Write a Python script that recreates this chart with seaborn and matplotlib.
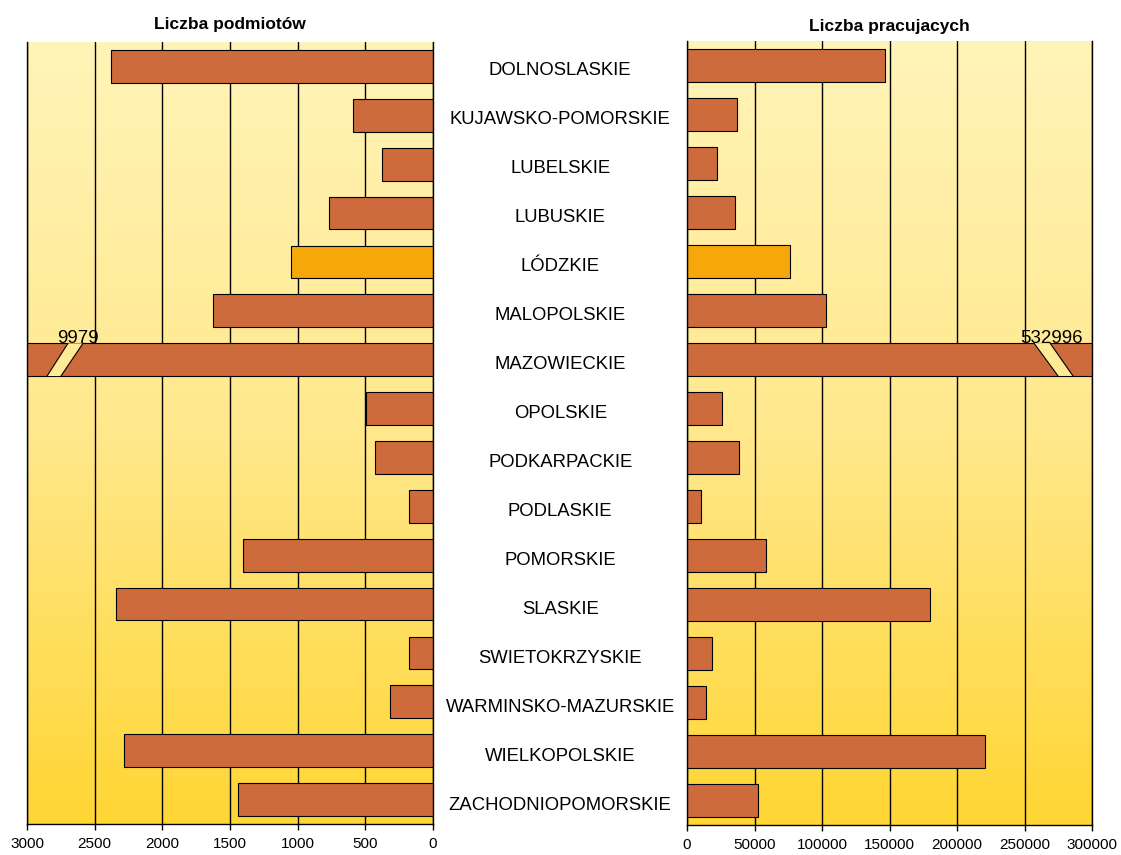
import numpy as np
import pandas as pd
import matplotlib
matplotlib.use("Agg")
import matplotlib.pyplot as plt
from matplotlib.colors import LinearSegmentedColormap
from matplotlib.patches import Polygon
import seaborn as sns

# data
regions = ["DOLNOSLASKIE", "KUJAWSKO-POMORSKIE", "LUBELSKIE", "LUBUSKIE", "LÓDZKIE",
           "MALOPOLSKIE", "MAZOWIECKIE", "OPOLSKIE", "PODKARPACKIE", "PODLASKIE",
           "POMORSKIE", "SLASKIE", "SWIETOKRZYSKIE", "WARMINSKO-MAZURSKIE",
           "WIELKOPOLSKIE", "ZACHODNIOPOMORSKIE"]
podmioty = [2380, 590, 380, 765, 1050, 1625, 9979, 495, 425, 180,
            1405, 2345, 180, 315, 2285, 1440]
pracujacy = [146700, 37000, 22200, 35500, 76300, 103000, 532996, 25900, 38500, 10400,
             58500, 180000, 18500, 14100, 220700, 52600]
left_max = 3000
right_max = 300000
left_ticks = [0, 500, 1000, 1500, 2000, 2500, 3000]
right_ticks = [0, 50000, 100000, 150000, 200000, 250000, 300000]
highlight = "LÓDZKIE"
broken = "MAZOWIECKIE"

bar_color = "#CD6B3D"
hl_color = "#F6A70A"
palette = {r: (hl_color if r == highlight else bar_color) for r in regions}

df = pd.DataFrame({"region": regions, "podmioty": podmioty, "pracujacy": pracujacy})
df["podmioty_plot"] = df["podmioty"].clip(upper=left_max)
df["pracujacy_plot"] = df["pracujacy"].clip(upper=right_max)

sns.set_style("white")
plt.rcParams["font.family"] = ["Liberation Sans", "DejaVu Sans"]
plt.rcParams["text.color"] = "black"
plt.rcParams["xtick.color"] = "black"

fig = plt.figure(figsize=(11.21, 8.55), dpi=100)
axL = fig.add_axes([27 / 1121, 31 / 855, 406 / 1121, 782 / 855])
axR = fig.add_axes([687 / 1121, 30 / 855, 405 / 1121, 784 / 855])

grad = LinearSegmentedColormap.from_list("bg", ["#FFF4B8", "#FFE88C", "#FFD634"])
n = len(regions)


def draw_panel(ax, col, xmax, ticks):
    ax.imshow(np.linspace(0, 1, 256).reshape(-1, 1), cmap=grad, aspect="auto",
              extent=[0, xmax, n - 0.5, -0.5], zorder=0)
    sns.barplot(data=df, y="region", x=col, hue="region", palette=palette,
                legend=False, orient="h", width=0.67, edgecolor="black",
                linewidth=0.8, saturation=1, ax=ax, zorder=2)
    ax.set_xlim(0, xmax)
    ax.set_ylim(n - 0.5, -0.5)
    ax.set_xticks(ticks)
    ax.set_xticklabels([str(t) for t in ticks], fontsize=11)
    ax.set_yticks([])
    ax.set_xlabel("")
    ax.set_ylabel("")
    for t in ticks:
        ax.axvline(t, color="black", lw=1, zorder=1)
    ax.spines["top"].set_visible(False)
    for s in ["left", "right", "bottom"]:
        ax.spines[s].set_color("black")
        ax.spines[s].set_linewidth(1)
    ax.tick_params(axis="x", bottom=True, length=4, width=1, direction="out",
                   color="black", pad=5)


draw_panel(axL, "podmioty_plot", left_max, left_ticks)
draw_panel(axR, "pracujacy_plot", right_max, right_ticks)
axL.invert_xaxis()

axL.set_title("Liczba podmiotów", fontsize=12.5, fontweight="bold", pad=9)
axR.set_title("Liczba pracujacych", fontsize=12.5, fontweight="bold", pad=7)

# category names in the middle
for i, r in enumerate(regions):
    axR.text(-0.313, i + 0.1, r, transform=axR.get_yaxis_transform(), ha="center",
             va="center", fontsize=13.3)

# broken bar for MAZOWIECKIE
bi = regions.index(broken)
h = 0.67 / 2
gap_col = "#FFEA95"


def draw_break(ax, xs_top, xs_bot):
    poly = Polygon([(xs_top[0], bi - h), (xs_top[1], bi - h),
                    (xs_bot[1], bi + h), (xs_bot[0], bi + h)],
                   closed=True, facecolor=gap_col, edgecolor="none", zorder=3)
    ax.add_patch(poly)
    for k in range(2):
        ax.plot([xs_top[k], xs_bot[k]], [bi - h, bi + h], color="black", lw=0.8,
                zorder=4)


draw_break(axL, (2697, 2586), (2852, 2749))
draw_break(axR, (257000, 268900), (274800, 285900))

axL.text(2620, bi - h + 0.08, str(podmioty[bi]), ha="center", va="bottom",
         fontsize=13.5, zorder=5)
axR.text(270000, bi - h + 0.08, str(pracujacy[bi]), ha="center", va="bottom",
         fontsize=13.5, zorder=5)

fig.savefig("out.png", dpi=100)
